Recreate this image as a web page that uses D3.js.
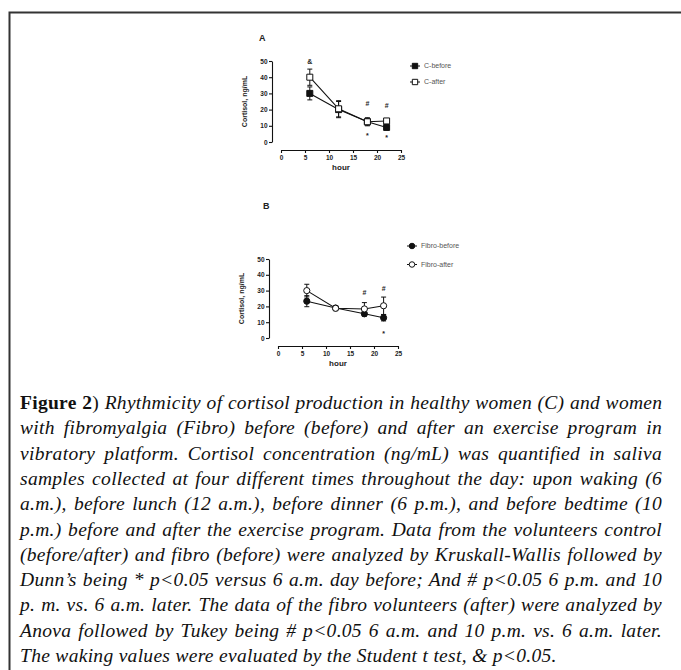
<!DOCTYPE html>
<html>
<head>
<meta charset="utf-8">
<script src="https://cdn.jsdelivr.net/npm/d3@7"></script>
<style>
  html, body { margin: 0; padding: 0; background: #fff; }
  svg { display: block; }
  .axis text { font-family: "Liberation Sans", Arial, sans-serif; font-weight: bold; font-size: 6.5px; fill: #222; }
  .axis path, .axis line { stroke: #111; stroke-width: 1.1px; }
  .lbl { font-family: "Liberation Sans", Arial, sans-serif; font-weight: bold; fill: #222; }
  .leg { font-family: "Liberation Sans", Arial, sans-serif; font-size: 7px; fill: #555; }
  .cap { font-family: "Liberation Serif", "Times New Roman", serif; font-style: italic; font-size: 19.5px; letter-spacing: 0.3px; fill: #111; }
</style>
</head>
<body>
<div id="fig"></div>
<script>
// hours of the saliva samples
var hours = [6, 12, 18, 22];

// panel A: healthy women (ng/mL, mean and error)
var cBefore = [30, 20, 12.5, 9];
var cBeforeErr = [4, 5, 2, 1.5];
var cAfter = [40, 20.5, 12.5, 13];
var cAfterErr = [5, 5, 2.5, 1];

// panel B: fibromyalgia
var fBefore = [23.3, 19, 15.3, 12.8];
var fBeforeErr = [3.5, 1.5, 1.5, 2];
var fAfter = [30, 18.8, 18.4, 20.4];
var fAfterErr = [4, 1.5, 4, 5.5];

// significance marks: [hour, value where the mark sits, symbol]
var marksA = [[6, 49.5, "&"], [18, 24, "#"], [22, 22.5, "#"], [18, 5.5, "*"], [22, 4.5, "*"]];
var marksB = [[18, 28.5, "#"], [22, 31, "#"], [22, 4.5, "*"]];

var yTicks = [0, 10, 20, 30, 40, 50];
var xTicks = [0, 5, 10, 15, 20, 25];

var captionLines = [
  "Rhythmicity of cortisol production in healthy women (C) and women",
  "with fibromyalgia (Fibro) before (before) and after an exercise program in",
  "vibratory platform. Cortisol concentration (ng/mL) was quantified in saliva",
  "samples collected at four different times throughout the day: upon waking (6",
  "a.m.), before lunch (12 a.m.), before dinner (6 p.m.), and before bedtime (10",
  "p.m.) before and after the exercise program. Data from the volunteers control",
  "(before/after) and fibro (before) were analyzed by Kruskall-Wallis followed by",
  "Dunn\u2019s being * p<0.05 versus 6 a.m. day before; And # p<0.05 6 p.m. and 10",
  "p. m. vs. 6 a.m. later. The data of the fibro volunteers (after) were analyzed by",
  "Anova followed by Tukey being # p<0.05 6 a.m. and 10 p.m. vs. 6 a.m. later.",
  "The waking values were evaluated by the Student t test, & p<0.05."
];

var W = 681, H = 670;
var svg = d3.select("#fig").append("svg").attr("width", W).attr("height", H);

// frame (top and left rules)
svg.append("path").attr("d", "M9.5,670 V12.5 H681")
  .attr("fill", "none").attr("stroke", "#333").attr("stroke-width", 2);

function panel(opt) {
  var g = svg.append("g");
  var x = d3.scaleLinear().domain([0, 25]).range(opt.xr);
  var y = d3.scaleLinear().domain([0, 50]).range(opt.yr);

  g.append("g").attr("class", "axis")
    .attr("transform", "translate(" + opt.yAxisX + ",0)")
    .call(d3.axisLeft(y).tickValues(yTicks).tickSize(3).tickSizeOuter(0).tickPadding(1.5));
  g.append("g").attr("class", "axis")
    .attr("transform", "translate(0," + opt.xAxisY + ")")
    .call(d3.axisBottom(x).tickValues(xTicks).tickSize(3).tickSizeOuter(0).tickPadding(2));

  g.append("text").attr("class", "lbl").attr("font-size", 8)
    .attr("x", (opt.xr[0] + opt.xr[1]) / 2).attr("y", opt.xAxisY + 20)
    .attr("text-anchor", "middle").text("hour");
  g.append("text").attr("class", "lbl").attr("font-size", 7)
    .attr("transform", "translate(" + opt.yLabelX + "," + (opt.yr[0] + opt.yr[1]) / 2 + ") rotate(-90)")
    .attr("text-anchor", "middle").text("Cortisol, ng/mL");
  g.append("text").attr("class", "lbl").attr("font-size", 9)
    .attr("x", opt.letter[0]).attr("y", opt.letter[1]).attr("dy", "0.35em").text(opt.name);

  var line = d3.line().x(function (d) { return x(d[0]); }).y(function (d) { return y(d[1]); });

  opt.series.forEach(function (s) {
    var pts = hours.map(function (h, i) { return [h, s.values[i], s.err[i]]; });
    g.append("path").datum(pts).attr("d", line)
      .attr("fill", "none").attr("stroke", "#111").attr("stroke-width", 1.1);
    var eb = g.append("g").selectAll("g").data(pts).join("g");
    eb.append("line")
      .attr("x1", function (d) { return x(d[0]); }).attr("x2", function (d) { return x(d[0]); })
      .attr("y1", function (d) { return y(d[1] - d[2]); }).attr("y2", function (d) { return y(d[1] + d[2]); })
      .attr("stroke", "#111").attr("stroke-width", 1);
    [-1, 1].forEach(function (sgn) {
      eb.append("line")
        .attr("x1", function (d) { return x(d[0]) - 2.5; }).attr("x2", function (d) { return x(d[0]) + 2.5; })
        .attr("y1", function (d) { return y(d[1] + sgn * d[2]); }).attr("y2", function (d) { return y(d[1] + sgn * d[2]); })
        .attr("stroke", "#111").attr("stroke-width", 1);
    });
    g.append("g").selectAll("path").data(pts).join("path")
      .attr("transform", function (d) { return "translate(" + x(d[0]) + "," + y(d[1]) + ")"; })
      .attr("d", d3.symbol().type(s.shape).size(s.size))
      .attr("fill", s.open ? "#fff" : "#111").attr("stroke", "#111").attr("stroke-width", 1);
  });

  g.selectAll("text.mark").data(opt.marks).join("text").attr("class", "mark lbl")
    .attr("x", function (d) { return x(d[0]); })
    .attr("y", function (d) { return y(d[1]); })
    .attr("dy", function (d) { return d[2] === "*" ? "0.75em" : "0.35em"; })
    .attr("text-anchor", "middle").attr("font-size", 7)
    .attr("fill", function (d) { return d[2] === "&" ? "#333" : "#777"; })
    .attr("font-weight", "normal")
    .text(function (d) { return d[2]; });

  // legend
  opt.series.forEach(function (s, i) {
    var ly = opt.legend[1] + i * opt.legendStep, lx = opt.legend[0];
    g.append("line").attr("x1", lx - 5).attr("x2", lx + 5).attr("y1", ly).attr("y2", ly)
      .attr("stroke", "#111").attr("stroke-width", 1);
    g.append("path").attr("transform", "translate(" + lx + "," + ly + ")")
      .attr("d", d3.symbol().type(s.shape).size(s.size * 0.8))
      .attr("fill", s.open ? "#fff" : "#111").attr("stroke", "#111").attr("stroke-width", 1);
    g.append("text").attr("class", "leg").attr("x", lx + 9).attr("y", ly).attr("dy", "0.35em").text(s.name);
  });
}

panel({
  name: "A", letter: [259, 38],
  xr: [281, 401], yr: [142, 61], yAxisX: 272, xAxisY: 150, yLabelX: 247,
  legend: [415, 66], legendStep: 16, marks: marksA,
  series: [
    { name: "C-before", values: cBefore, err: cBeforeErr, shape: d3.symbolSquare, size: 36, open: false },
    { name: "C-after", values: cAfter, err: cAfterErr, shape: d3.symbolSquare, size: 36, open: true }
  ]
});

panel({
  name: "B", letter: [263, 206],
  xr: [278, 398], yr: [338, 259], yAxisX: 269, xAxisY: 346, yLabelX: 244,
  legend: [412, 246], legendStep: 18.5, marks: marksB,
  series: [
    { name: "Fibro-before", values: fBefore, err: fBeforeErr, shape: d3.symbolCircle, size: 30, open: false },
    { name: "Fibro-after", values: fAfter, err: fAfterErr, shape: d3.symbolCircle, size: 30, open: true }
  ]
});

// caption, justified line by line
var capX = 20, capW = 642, capY0 = 409, capStep = 25.3;
captionLines.forEach(function (txt, i) {
  var t = svg.append("text").attr("class", "cap").attr("x", capX).attr("y", capY0 + i * capStep);
  var nSpaces = txt.split(" ").length - 1;
  if (i === 0) {
    t.append("tspan").attr("font-weight", "bold").attr("font-style", "normal").text("Figure 2");
    t.append("tspan").attr("font-style", "normal").text(") ");
    nSpaces += 1;
  }
  t.append("tspan").text(txt);
  if (i < captionLines.length - 1) {
    var w = t.node().getComputedTextLength();
    if (w < capW) {
      t.attr("word-spacing", (capW - w) / nSpaces);
    } else {
      t.attr("textLength", capW).attr("lengthAdjust", "spacingAndGlyphs");
    }
  }
});
</script>
</body>
</html>
